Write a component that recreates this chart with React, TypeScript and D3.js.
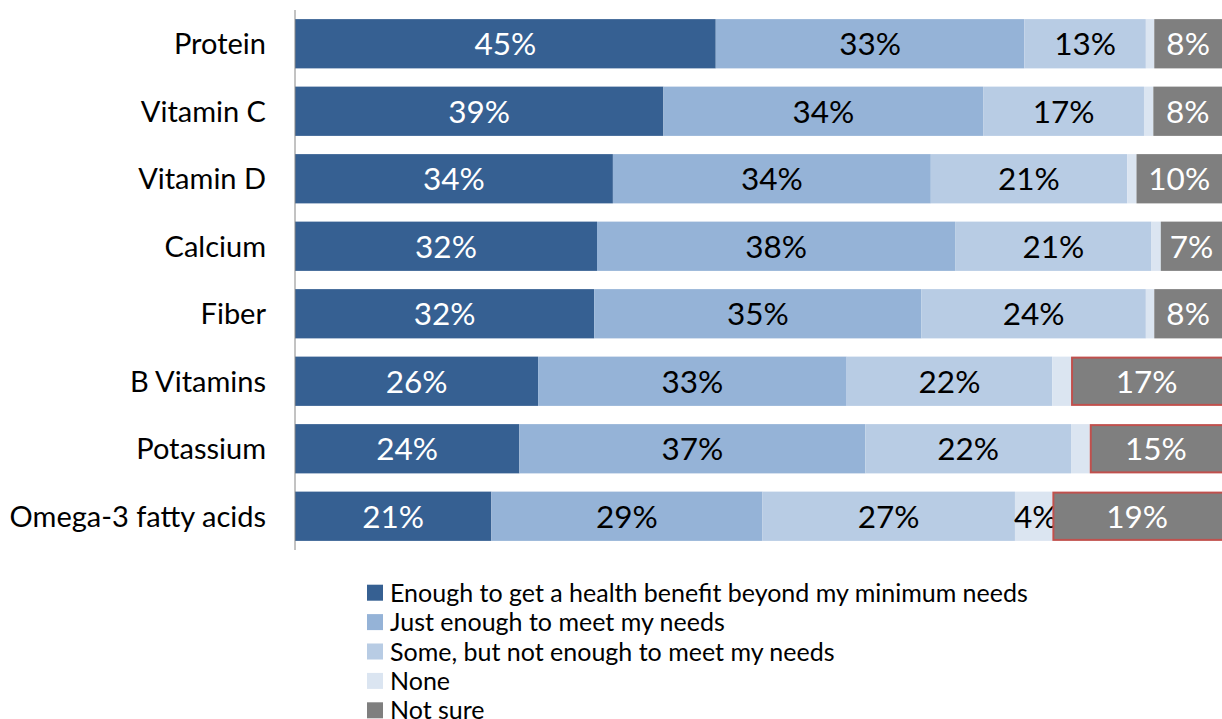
import React from "react";
import * as d3 from "d3";

const categories = [
  "Protein",
  "Vitamin C",
  "Vitamin D",
  "Calcium",
  "Fiber",
  "B Vitamins",
  "Potassium",
  "Omega-3 fatty acids",
];

const seriesNames = [
  "Enough to get a health benefit beyond my minimum needs",
  "Just enough to meet my needs",
  "Some, but not enough to meet my needs",
  "None",
  "Not sure",
];

const enoughBenefit = [45, 39.4, 34, 32.3, 32, 26, 24, 21];
const justEnough = [33, 34.2, 34, 38.3, 35, 33, 37, 29];
const someNotEnough = [13, 17.2, 21, 21, 24, 22, 22, 27];
const none = [0.9, 1, 1, 1, 0.9, 2, 2, 4];
const notSure = [8, 8, 10, 7, 8, 17, 15, 19];

const flaggedCategories = ["B Vitamins", "Potassium", "Omega-3 fatty acids"];

const seriesValues = [enoughBenefit, justEnough, someNotEnough, none, notSure];
const colors = ["#366092", "#95B3D7", "#B8CCE4", "#DBE5F1", "#7F7F7F"];
const labelColors = ["#ffffff", "#000000", "#000000", "#000000", "#ffffff"];

const FONT = "Lato, 'Open Sans', sans-serif";

export default function App() {
  const width = 1222;
  const height = 719;

  const x = d3.scaleLinear().domain([0, 100]).range([295, 1230]);
  const y = d3
    .scaleBand<string>()
    .domain(categories)
    .range([10, 550])
    .paddingInner(0.27)
    .paddingOuter(0.135);

  const rows = categories.map((c, i) => {
    let acc = 0;
    return seriesValues.map((vals, s) => {
      const v = vals[i];
      const seg = { s, x0: acc, x1: acc + v, v, cat: c };
      acc += v;
      return seg;
    });
  });

  const legendY = d3
    .scaleBand<string>()
    .domain(seriesNames)
    .range([578, 725])
    .padding(0);

  return (
    <svg
      width={width}
      height={height}
      style={{ position: "absolute", left: 0, top: 0, background: "#fff" }}
      fontFamily={FONT}
    >
      {rows.map((segs, i) =>
        segs.map((seg) => {
          const flagged = seg.s === 4 && flaggedCategories.includes(seg.cat);
          const bx = x(seg.x0);
          const bw = x(seg.x1) - x(seg.x0);
          const by = y(seg.cat)!;
          return (
            <g key={`${i}-${seg.s}`}>
              <rect
                x={flagged ? bx + 1 : bx}
                y={flagged ? by + 1 : by}
                width={flagged ? bw - 2 : bw}
                height={flagged ? y.bandwidth() - 2 : y.bandwidth()}
                fill={colors[seg.s]}
                stroke={flagged ? "#C0504D" : "none"}
                strokeWidth={flagged ? 2 : 0}
              />
              {seg.v >= 3 && (
                <text
                  x={(x(seg.x0) + Math.min(x(seg.x1), 1222)) / 2 + (seg.s === 3 ? 2 : 0)}
                  y={by + y.bandwidth() / 2}
                  dy="0.36em"
                  textAnchor="middle"
                  fontSize={31.5}
                  fill={labelColors[seg.s]}
                >
                  {Math.round(seg.v)}%
                </text>
              )}
            </g>
          );
        })
      )}
      <line x1={295} x2={295} y1={10} y2={550} stroke="#868686" strokeWidth={1} />
      {categories.map((c) => (
        <text
          key={c}
          x={266}
          y={y(c)! + y.bandwidth() / 2}
          dy="0.36em"
          textAnchor="end"
          fontSize={29}
          fill="#000"
        >
          {c}
        </text>
      ))}
      {seriesNames.map((n, s) => {
        const cy = legendY(n)! + legendY.bandwidth() / 2;
        return (
          <g key={n}>
            <rect x={367} y={cy - 8} width={16} height={16} fill={colors[s]} />
            <text x={390} y={cy} dy="0.36em" fontSize={25} fill="#000">
              {n}
            </text>
          </g>
        );
      })}
    </svg>
  );
}
